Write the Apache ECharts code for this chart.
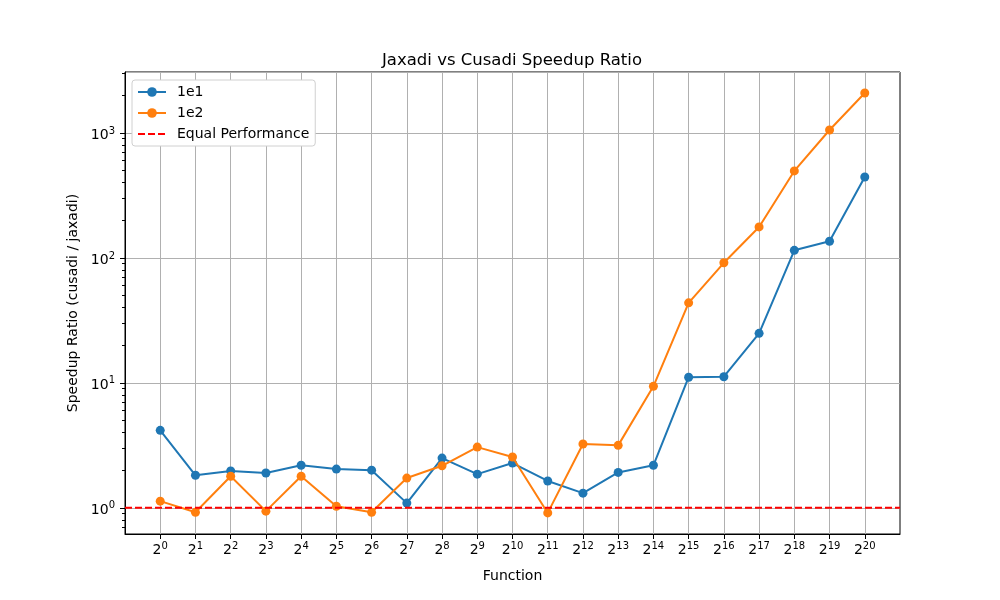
<!DOCTYPE html>
<html>
<head>
<meta charset="utf-8">
<script src="https://cdn.jsdelivr.net/npm/echarts@6/dist/echarts.min.js"></script>
<style>
  html, body { margin: 0; padding: 0; background: #fff; }
  #main { width: 1000px; height: 600px; }
</style>
</head>
<body>
<div id="main"></div>
<script>
// exponents of 2 on the x axis
var exponents = [0, 1, 2, 3, 4, 5, 6, 7, 8, 9, 10, 11, 12, 13, 14, 15, 16, 17, 18, 19, 20];
var ratio1e1 = [4.17, 1.82, 1.97, 1.90, 2.19, 2.04, 2.00, 1.09, 2.50, 1.86, 2.28, 1.64,
                1.31, 1.92, 2.19, 11.1, 11.2, 24.9, 115, 136, 444];
var ratio1e2 = [1.13, 0.92, 1.79, 0.94, 1.79, 1.03, 0.92, 1.73, 2.17, 3.06, 2.55, 0.91,
                3.24, 3.16, 9.39, 43.7, 91.4, 177, 497, 1057, 2090];
var equalLevel = 1;
var yMin = 0.617;
var yMax = 3077;

window.onload = function () {
    var myChart = echarts.init(document.getElementById('main'));
    var FONT = 'DejaVu Sans';

    function toPoints(values) {
        return values.map(function (v, i) {
            return [exponents[i], v];
        });
    }

    // minor ticks of the log axis: 2..9 times each decade
    var minorTicks = [];
    [0.1, 1, 10, 100, 1000].forEach(function (d) {
        for (var k = 2; k <= 9; k++) {
            var v = k * d;
            if (v > yMin && v < yMax) minorTicks.push(v);
        }
    });

    var supRich = {
        base: { fontSize: 14, fontFamily: FONT, color: '#000' },
        sup: { fontSize: 10, fontFamily: FONT, color: '#000', verticalAlign: 'bottom', padding: [0, 0, 9, 0] }
    };

    var option = {
        animation: false,
        backgroundColor: '#fff',
        title: {
            text: 'Jaxadi vs Cusadi Speedup Ratio',
            left: 512,
            top: 52,
            padding: 0,
            textAlign: 'center',
            textStyle: { fontFamily: FONT, fontSize: 16.5, fontWeight: 'normal', color: '#000' }
        },
        legend: {
            orient: 'vertical',
            left: 132,
            top: 80,
            padding: [5, 6, 5, 5],
            itemWidth: 28,
            itemHeight: 12,
            itemGap: 7,
            backgroundColor: '#fff',
            borderColor: '#d0d0d0',
            borderWidth: 1,
            borderRadius: 3,
            textStyle: { fontFamily: FONT, fontSize: 14, color: '#000', padding: [0, 0, 0, 6] },
            data: ['1e1', '1e2', { name: 'Equal Performance', itemStyle: { opacity: 0 } }]
        },
        grid: {
            left: 125,
            right: 100,
            top: 72,
            bottom: 66,
            show: true,
            borderColor: '#000',
            borderWidth: 1
        },
        xAxis: {
            type: 'value',
            min: -1,
            max: 21,
            interval: 1,
            name: 'Function',
            nameLocation: 'middle',
            nameGap: 35,
            nameTextStyle: { fontFamily: FONT, fontSize: 14, color: '#000' },
            axisLine: { onZero: false, lineStyle: { color: '#000' } },
            axisTick: { customValues: exponents, length: 5, lineStyle: { color: '#000' } },
            axisLabel: {
                customValues: exponents,
                margin: 7,
                formatter: function (v) {
                    return '{base|2}{sup|' + v + '}';
                },
                rich: supRich
            },
            splitLine: { show: true, lineStyle: { color: '#b0b0b0', width: 1 } }
        },
        yAxis: [
            {
                type: 'log',
                logBase: 10,
                min: yMin,
                max: yMax,
                name: 'Speedup Ratio (cusadi / jaxadi)',
                nameLocation: 'middle',
                nameGap: 43,
                nameTextStyle: { fontFamily: FONT, fontSize: 14, color: '#000' },
                axisLine: { show: true, onZero: false, lineStyle: { color: '#000' } },
                axisTick: { show: true, length: 5, lineStyle: { color: '#000' } },
                axisLabel: {
                    showMinLabel: false,
                    showMaxLabel: false,
                    margin: 10,
                    padding: [5, 0, 0, 0],
                    formatter: function (v) {
                        var e = Math.log10(v);
                        var r = Math.round(e);
                        if (Math.abs(e - r) > 1e-6) return '';
                        return '{base|10}{sup|' + r + '}';
                    },
                    rich: supRich
                },
                splitLine: { show: true, lineStyle: { color: '#b0b0b0', width: 1 } }
            },
            {
                type: 'log',
                logBase: 10,
                min: yMin,
                max: yMax,
                position: 'left',
                axisLine: { show: false, onZero: false },
                axisTick: { show: true, customValues: minorTicks, length: 3, lineStyle: { color: '#000' } },
                axisLabel: { show: false },
                splitLine: { show: false }
            }
        ],
        series: [
            {
                name: '1e1',
                type: 'line',
                data: toPoints(ratio1e1),
                symbol: 'circle',
                symbolSize: 9,
                itemStyle: { color: '#1f77b4' },
                lineStyle: { color: '#1f77b4', width: 2 },
                z: 3
            },
            {
                name: '1e2',
                type: 'line',
                data: toPoints(ratio1e2),
                symbol: 'circle',
                symbolSize: 9,
                itemStyle: { color: '#ff7f0e' },
                lineStyle: { color: '#ff7f0e', width: 2 },
                z: 4
            },
            {
                name: 'Equal Performance',
                type: 'line',
                data: [[-1, equalLevel], [21, equalLevel]],
                symbol: 'none',
                itemStyle: { color: '#ff0000' },
                lineStyle: { color: '#ff0000', width: 2, type: [7, 3] },
                z: 5
            }
        ]
    };

    myChart.setOption(option);
};
</script>
</body>
</html>
